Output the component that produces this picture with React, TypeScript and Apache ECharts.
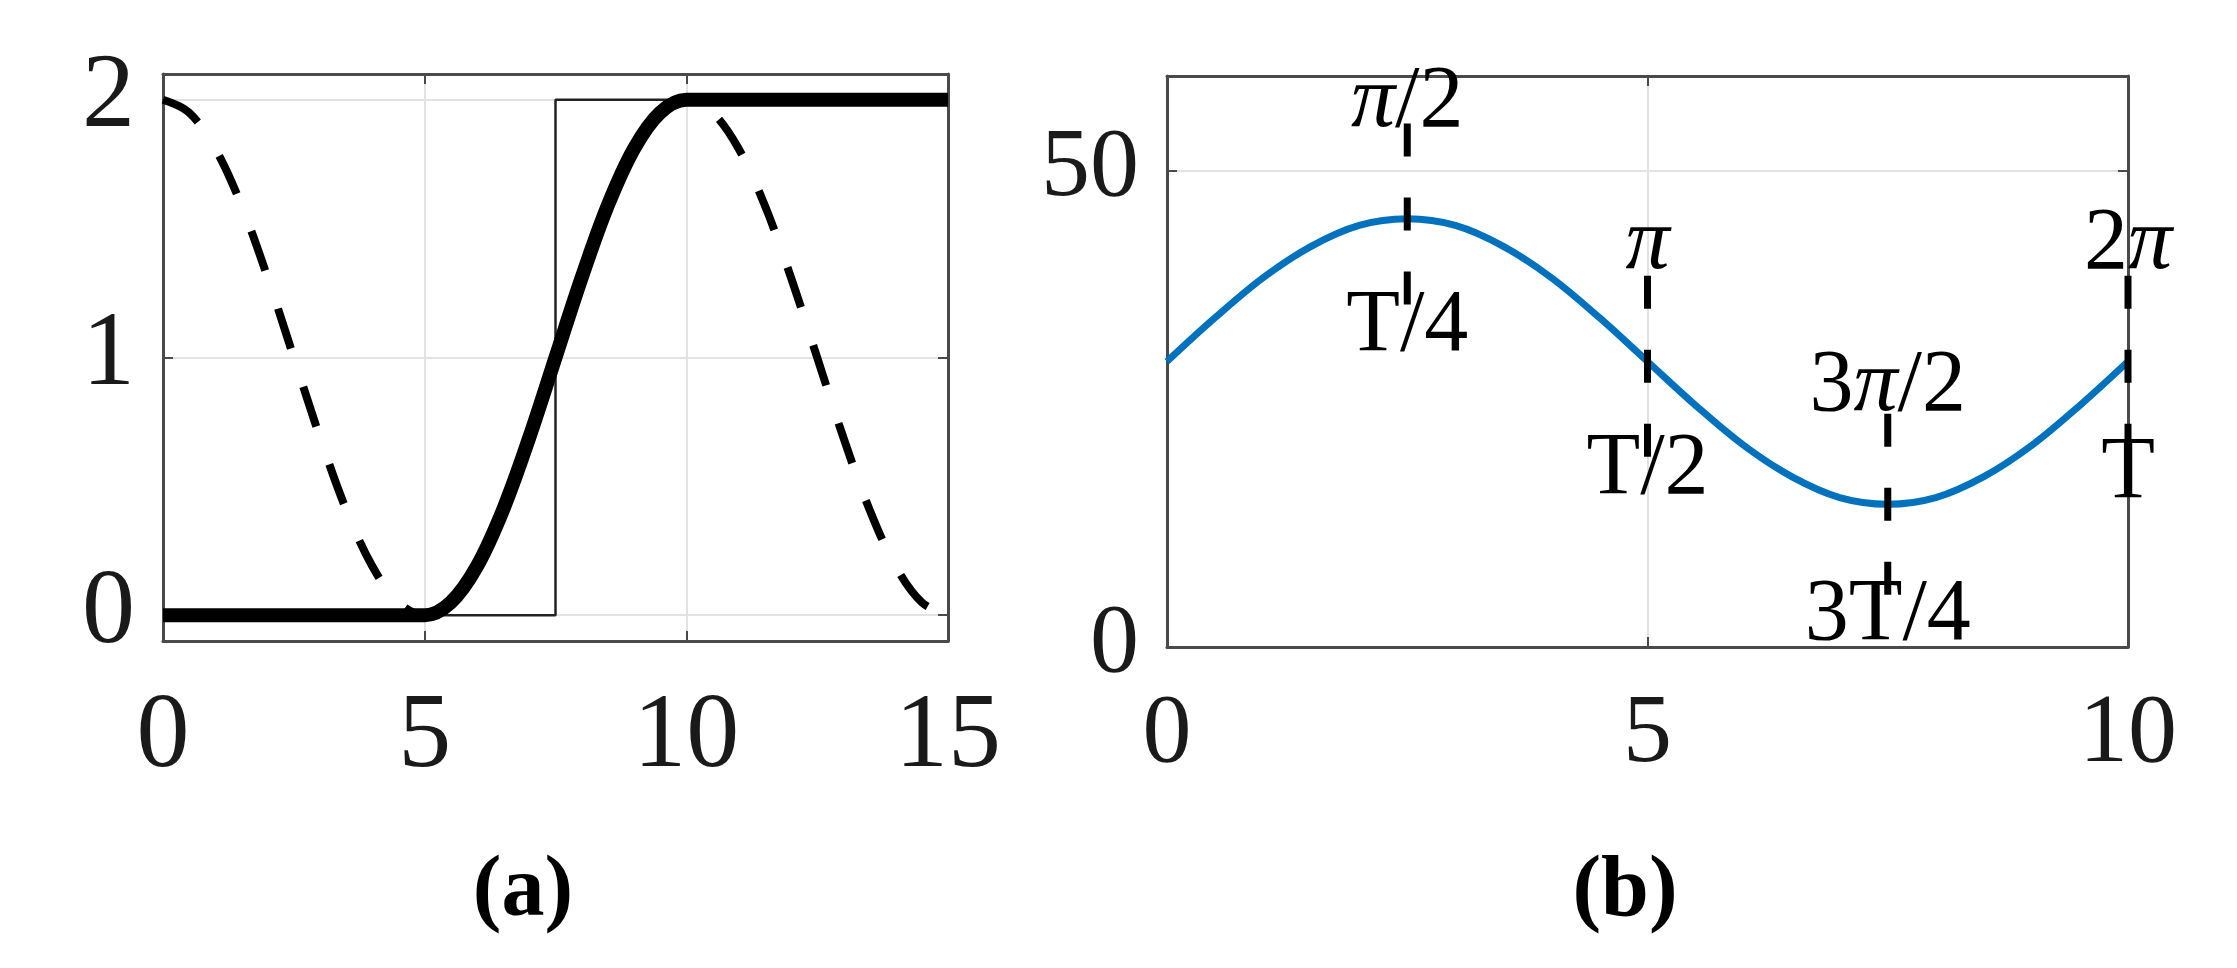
import React, { useEffect, useRef } from "react";
import * as echarts from "echarts";

// ---------- Panel (a) data ----------
const A_X = [0, 0.5, 1, 1.5, 2, 2.5, 3, 3.5, 4, 4.5, 5, 5.5, 6, 6.5, 7, 7.5, 8, 8.5, 9, 9.5, 10, 10.5, 11, 11.5, 12, 12.5, 13, 13.5, 14, 14.5, 15];
const A_DASHED = [2.0, 1.95, 1.81, 1.59, 1.31, 1.0, 0.69, 0.41, 0.19, 0.05, 0.0, 0.05, 0.19, 0.41, 0.69, 1.0, 1.31, 1.59, 1.81, 1.95, 2.0, 1.95, 1.81, 1.59, 1.31, 1.0, 0.69, 0.41, 0.19, 0.05, 0.0];
const A_THICK = [0, 0, 0, 0, 0, 0, 0, 0, 0, 0, 0, 0.05, 0.19, 0.41, 0.69, 1.0, 1.31, 1.59, 1.81, 1.95, 2.0, 2, 2, 2, 2, 2, 2, 2, 2, 2, 2];
const A_STEP_X = [0, 7.5, 7.5, 15];
const A_STEP_Y = [0, 0, 2, 2];
const A_XTICKS = [0, 5, 10, 15];
const A_YTICKS = [0, 1, 2];

// ---------- Panel (b) data ----------
const B_X = [0, 0.5, 1, 1.5, 2, 2.5, 3, 3.5, 4, 4.5, 5, 5.5, 6, 6.5, 7, 7.5, 8, 8.5, 9, 9.5, 10];
const B_Y = [30, 34.6, 38.8, 42.1, 44.3, 45, 44.3, 42.1, 38.8, 34.6, 30, 25.4, 21.2, 17.9, 15.7, 15, 15.7, 17.9, 21.2, 25.4, 30];
const MARK_X = [2.5, 5, 7.5, 10];
const MARK_LO = [36, 20, 5.5, 20];
const MARK_HI = [55, 40, 25, 40];
const ANN_TEXT = ["π/2", "T/4", "π", "T/2", "3π/2", "3T/4", "2π", "T"];
const ANN_X = [2.5, 2.5, 5, 5, 7.5, 7.5, 10, 10];
const ANN_Y = [57.8, 34.3, 42.9, 19.3, 28.0, 3.9, 42.9, 18.9];
const B_XTICKS = [0, 5, 10];
const B_YTICKS = [0, 50];

const CAPTIONS = ["(a)", "(b)"];

const SERIF = '"Liberation Serif", "DejaVu Serif", serif';
const AX = "#4a4a4a";
const GRIDC = "#e2e2e2";

function App() {
  const ref = useRef<HTMLDivElement>(null);

  useEffect(() => {
    if (!ref.current) return;
    const chart = echarts.init(ref.current, undefined, { renderer: "svg" });

    const mainX = (grid: number, max: number, fs: number, margin: number, ticks: number[]) => ({
      type: "value",
      gridIndex: grid,
      min: 0,
      max,
      interval: 5,
      axisLine: { show: true, onZero: false, lineStyle: { color: AX, width: 3 } },
      axisTick: { show: true, inside: true, length: 10, lineStyle: { color: AX, width: 2 } },
      axisLabel: {
        show: true,
        fontSize: fs,
        fontFamily: SERIF,
        color: "#1a1a1a",
        margin,
        formatter: (v: number) => (ticks.some((t) => Math.abs(t - v) < 1e-6) ? String(v) : ""),
      },
      splitLine: { show: true, lineStyle: { color: GRIDC, width: 2 } },
    });
    const frameX = (grid: number, max: number) => ({
      type: "value",
      gridIndex: grid,
      position: "top",
      min: 0,
      max,
      interval: 5,
      axisLine: { show: true, onZero: false, lineStyle: { color: AX, width: 3 } },
      axisTick: { show: true, inside: true, length: 10, lineStyle: { color: AX, width: 2 } },
      axisLabel: { show: false },
      splitLine: { show: false },
    });
    const mainY = (grid: number, extra: any, fs: number, ticks: number[]) => ({
      type: "value",
      gridIndex: grid,
      ...extra,
      axisLine: { show: true, onZero: false, lineStyle: { color: AX, width: 3 } },
      axisTick: { show: true, inside: true, length: 10, lineStyle: { color: AX, width: 2 } },
      axisLabel: {
        show: true,
        fontSize: fs,
        fontFamily: SERIF,
        color: "#1a1a1a",
        margin: 28,
        verticalAlign: "bottom",
        lineHeight: 18,
        formatter: (v: number) => (ticks.some((t) => Math.abs(t - v) < 1e-6) ? String(Math.round(v)) : ""),
      },
      splitLine: { show: true, lineStyle: { color: GRIDC, width: 2 } },
    });
    const frameY = (grid: number, extra: any) => ({
      type: "value",
      gridIndex: grid,
      position: "right",
      ...extra,
      axisLine: { show: true, onZero: false, lineStyle: { color: AX, width: 3 } },
      axisTick: { show: true, inside: true, length: 10, lineStyle: { color: AX, width: 2 } },
      axisLabel: { show: false },
      splitLine: { show: false },
    });

    const aY = { min: -0.1, max: 2.1, splitNumber: 2 };
    const bY = { min: 0, max: 60, interval: 50 };

    const markSeries = MARK_X.map((x, i) => ({
      type: "line",
      xAxisIndex: 2,
      yAxisIndex: 2,
      data: [
        [x, MARK_LO[i]],
        [x, MARK_HI[i]],
      ],
      showSymbol: false,
      silent: true,
      clip: false,
      z: 4,
      lineStyle: { color: "#000", width: 7, type: [33, 41], cap: "butt" },
    }));

    const option: any = {
      animation: false,
      backgroundColor: "#ffffff",
      grid: [
        { left: 163, top: 74, width: 785, height: 567 },
        { left: 1167, top: 76, width: 961, height: 571 },
      ],
      xAxis: [mainX(0, 15, 106, 36, A_XTICKS), frameX(0, 15), mainX(1, 10, 98, 32, B_XTICKS), frameX(1, 10)],
      yAxis: [mainY(0, aY, 106, A_YTICKS), frameY(0, aY), mainY(1, bY, 98, B_YTICKS), frameY(1, bY)],
      series: [
        {
          type: "line",
          xAxisIndex: 0,
          yAxisIndex: 0,
          data: A_X.map((x, i) => [x, A_DASHED[i]]),
          showSymbol: false,
          smooth: 0.35,
          silent: true,
          z: 2,
          lineStyle: { color: "#000", width: 8, type: [42, 40], cap: "butt" },
        },
        {
          type: "line",
          xAxisIndex: 0,
          yAxisIndex: 0,
          data: A_STEP_X.map((x, i) => [x, A_STEP_Y[i]]),
          showSymbol: false,
          silent: true,
          z: 3,
          lineStyle: { color: "#222", width: 2.5 },
        },
        {
          type: "line",
          xAxisIndex: 0,
          yAxisIndex: 0,
          data: A_X.map((x, i) => [x, A_THICK[i]]),
          showSymbol: false,
          smooth: 0.35,
          silent: true,
          z: 4,
          lineStyle: { color: "#000", width: 14 },
        },
        {
          type: "line",
          xAxisIndex: 2,
          yAxisIndex: 2,
          data: B_X.map((x, i) => [x, B_Y[i]]),
          showSymbol: false,
          smooth: 0.35,
          silent: true,
          z: 3,
          lineStyle: { color: "#0072BD", width: 7 },
        },
        ...markSeries,
        {
          type: "scatter",
          xAxisIndex: 2,
          yAxisIndex: 2,
          data: ANN_X.map((x, i) => [x, ANN_Y[i], ANN_TEXT[i]]),
          symbolSize: 0,
          itemStyle: { color: "#000" },
          silent: true,
          clip: false,
          z: 6,
          label: {
            show: true,
            position: "inside",
            align: "center",
            verticalAlign: "middle",
            fontSize: 88,
            fontFamily: SERIF,
            color: "#000",
            opacity: 1,
            textBorderWidth: 0,
            formatter: (p: any) => String(p.data[2]).replace(/π/g, "{i|π}"),
            rich: {
              i: { fontSize: 88, fontFamily: SERIF, fontStyle: "italic", color: "#000", textBorderWidth: 0 },
            },
          },
        },
      ],
      graphic: [
        {
          type: "text",
          x: 523,
          y: 886,
          style: {
            text: CAPTIONS[0],
            font: `bold 86px ${SERIF}`,
            fill: "#000",
            textAlign: "center",
            textVerticalAlign: "middle",
          },
        },
        {
          type: "text",
          x: 1625,
          y: 886,
          style: {
            text: CAPTIONS[1],
            font: `bold 86px ${SERIF}`,
            fill: "#000",
            textAlign: "center",
            textVerticalAlign: "middle",
          },
        },
      ],
    };

    chart.setOption(option);
    return () => chart.dispose();
  }, []);

  return (
    <div
      ref={ref}
      style={{ position: "absolute", left: 0, top: 0, width: 2237, height: 968, background: "#fff" }}
    />
  );
}

export default App;
